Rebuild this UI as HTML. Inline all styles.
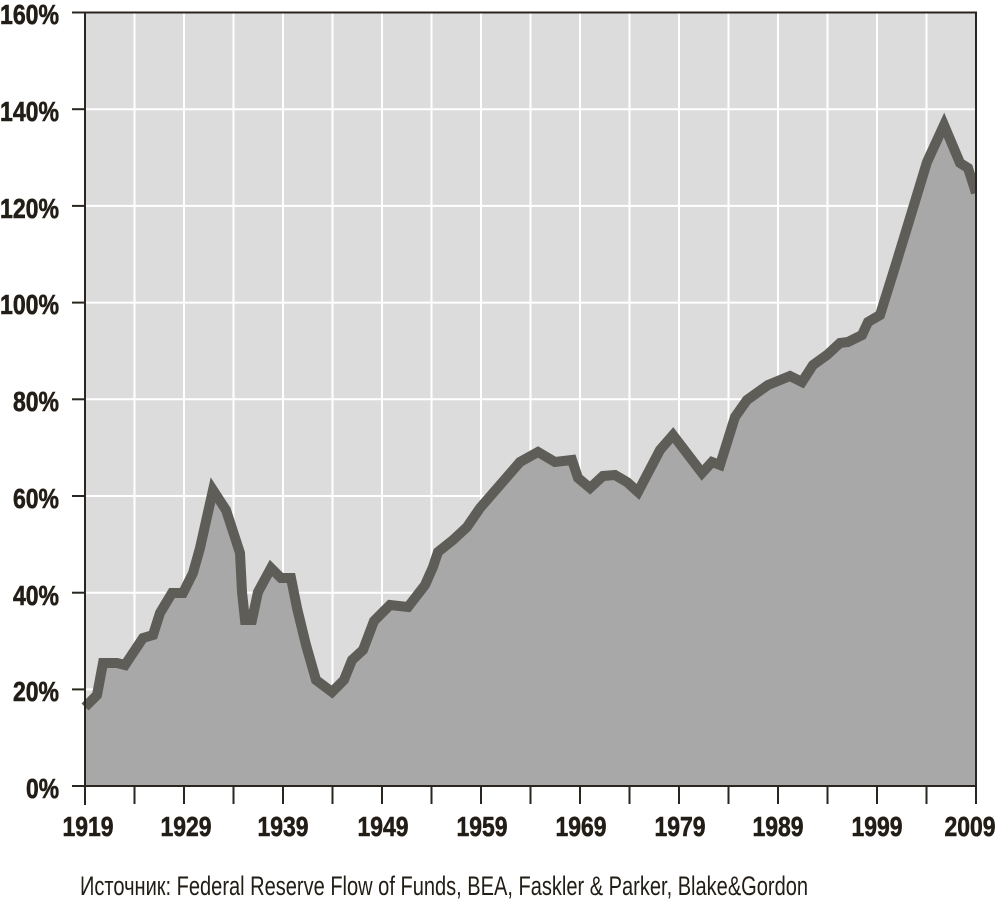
<!DOCTYPE html>
<html><head><meta charset="utf-8"><style>
body{margin:0;background:#fff;}
svg text{font-family:"Liberation Sans",sans-serif;}
</style></head><body>
<svg width="1000" height="908" xmlns="http://www.w3.org/2000/svg">
<rect x="85" y="12.5" width="891" height="774" fill="#dcdcdc"/>
<g stroke="#fff" stroke-width="2">
<line x1="134.5" y1="12" x2="134.5" y2="786"/><line x1="184" y1="12" x2="184" y2="786"/><line x1="233.5" y1="12" x2="233.5" y2="786"/><line x1="283" y1="12" x2="283" y2="786"/><line x1="332.5" y1="12" x2="332.5" y2="786"/><line x1="382" y1="12" x2="382" y2="786"/><line x1="431.5" y1="12" x2="431.5" y2="786"/><line x1="481" y1="12" x2="481" y2="786"/><line x1="530.5" y1="12" x2="530.5" y2="786"/><line x1="580" y1="12" x2="580" y2="786"/><line x1="629.5" y1="12" x2="629.5" y2="786"/><line x1="679" y1="12" x2="679" y2="786"/><line x1="728.5" y1="12" x2="728.5" y2="786"/><line x1="778" y1="12" x2="778" y2="786"/><line x1="827.5" y1="12" x2="827.5" y2="786"/><line x1="877" y1="12" x2="877" y2="786"/><line x1="926.5" y1="12" x2="926.5" y2="786"/>
<line x1="85" y1="109.2" x2="976" y2="109.2"/><line x1="85" y1="205.9" x2="976" y2="205.9"/><line x1="85" y1="302.6" x2="976" y2="302.6"/><line x1="85" y1="399.3" x2="976" y2="399.3"/><line x1="85" y1="496" x2="976" y2="496"/><line x1="85" y1="592.7" x2="976" y2="592.7"/><line x1="85" y1="689.4" x2="976" y2="689.4"/>
</g>
<polygon fill="#a8a8a8" points="85,786 85,707 97,695 103,663 117,663 125,665 133,653 143,638 153,635 160,613 172,593 183,593 193,573 200,548 213,490 226,510 240,553 242,592 245,620 252,620 258,592 271,568 281,578 291,578 297,608 306,645 316,680 332,692 344,680 352,660 363,650 374,621 390,605 408,607 425,585 433,567 438,552 453,540 467,527 480,508 500,485 520,462 538,452 555,462 572,460 578,478 590,488 603,476 615,475 627,482 638,492 660,450 673,435 702,473 712,462 720,465 735,417 747,400 768,385 790,376 802,382 813,365 827,355 840,343 848,342 862,335 868,322 880,315 895,267 910,218 927,162 944,125 960,163 968,168 976,193 976,786"/>
<polyline fill="none" stroke="#5e5d58" stroke-width="10" stroke-linejoin="miter" stroke-miterlimit="3" points="85,707 97,695 103,663 117,663 125,665 133,653 143,638 153,635 160,613 172,593 183,593 193,573 200,548 213,490 226,510 240,553 242,592 245,620 252,620 258,592 271,568 281,578 291,578 297,608 306,645 316,680 332,692 344,680 352,660 363,650 374,621 390,605 408,607 425,585 433,567 438,552 453,540 467,527 480,508 500,485 520,462 538,452 555,462 572,460 578,478 590,488 603,476 615,475 627,482 638,492 660,450 673,435 702,473 712,462 720,465 735,417 747,400 768,385 790,376 802,382 813,365 827,355 840,343 848,342 862,335 868,322 880,315 895,267 910,218 927,162 944,125 960,163 968,168 976,193"/>
<rect x="977" y="150" width="10" height="60" fill="#fff"/>
<g stroke="#2a251e" stroke-width="2" fill="none">
<polyline points="72,12.5 976,12.5 976,786"/>
<line x1="85" y1="12" x2="85" y2="805"/>
<line x1="72" y1="786" x2="976" y2="786"/>
<line x1="72" y1="109.2" x2="85" y2="109.2"/><line x1="72" y1="205.9" x2="85" y2="205.9"/><line x1="72" y1="302.6" x2="85" y2="302.6"/><line x1="72" y1="399.3" x2="85" y2="399.3"/><line x1="72" y1="496" x2="85" y2="496"/><line x1="72" y1="592.7" x2="85" y2="592.7"/><line x1="72" y1="689.4" x2="85" y2="689.4"/>
<line x1="134.5" y1="786" x2="134.5" y2="804"/><line x1="184" y1="786" x2="184" y2="804"/><line x1="233.5" y1="786" x2="233.5" y2="804"/><line x1="283" y1="786" x2="283" y2="804"/><line x1="332.5" y1="786" x2="332.5" y2="804"/><line x1="382" y1="786" x2="382" y2="804"/><line x1="431.5" y1="786" x2="431.5" y2="804"/><line x1="481" y1="786" x2="481" y2="804"/><line x1="530.5" y1="786" x2="530.5" y2="804"/><line x1="580" y1="786" x2="580" y2="804"/><line x1="629.5" y1="786" x2="629.5" y2="804"/><line x1="679" y1="786" x2="679" y2="804"/><line x1="728.5" y1="786" x2="728.5" y2="804"/><line x1="778" y1="786" x2="778" y2="804"/><line x1="827.5" y1="786" x2="827.5" y2="804"/><line x1="877" y1="786" x2="877" y2="804"/><line x1="926.5" y1="786" x2="926.5" y2="804"/><line x1="976" y1="786" x2="976" y2="804"/>
</g>
<g font-size="28" font-weight="bold" fill="#221d16" text-anchor="end" stroke="#221d16" stroke-width="0.6">
<text x="59" y="24" textLength="59" lengthAdjust="spacingAndGlyphs">160%</text>
<text x="59" y="121" textLength="59" lengthAdjust="spacingAndGlyphs">140%</text>
<text x="59" y="218" textLength="59" lengthAdjust="spacingAndGlyphs">120%</text>
<text x="59" y="314" textLength="59" lengthAdjust="spacingAndGlyphs">100%</text>
<text x="59" y="411" textLength="46" lengthAdjust="spacingAndGlyphs">80%</text>
<text x="59" y="508" textLength="46" lengthAdjust="spacingAndGlyphs">60%</text>
<text x="59" y="605" textLength="46" lengthAdjust="spacingAndGlyphs">40%</text>
<text x="59" y="701" textLength="46" lengthAdjust="spacingAndGlyphs">20%</text>
<text x="59" y="798" textLength="33" lengthAdjust="spacingAndGlyphs">0%</text>
</g>
<g font-size="28" font-weight="bold" fill="#221d16" text-anchor="middle" stroke="#221d16" stroke-width="0.6">
<text x="88" y="836" textLength="51" lengthAdjust="spacingAndGlyphs">1919</text>
<text x="186" y="836" textLength="51" lengthAdjust="spacingAndGlyphs">1929</text>
<text x="283" y="836" textLength="51" lengthAdjust="spacingAndGlyphs">1939</text>
<text x="383" y="836" textLength="51" lengthAdjust="spacingAndGlyphs">1949</text>
<text x="482" y="836" textLength="51" lengthAdjust="spacingAndGlyphs">1959</text>
<text x="581" y="836" textLength="51" lengthAdjust="spacingAndGlyphs">1969</text>
<text x="680" y="836" textLength="51" lengthAdjust="spacingAndGlyphs">1979</text>
<text x="778" y="836" textLength="51" lengthAdjust="spacingAndGlyphs">1989</text>
<text x="877" y="836" textLength="51" lengthAdjust="spacingAndGlyphs">1999</text>
<text x="970" y="836" textLength="51" lengthAdjust="spacingAndGlyphs">2009</text>
</g>
<text x="80" y="895" font-size="27" fill="#221d16" textLength="728" lengthAdjust="spacingAndGlyphs">Источник: Federal Reserve Flow of Funds, BEA, Faskler &amp; Parker, Blake&amp;Gordon</text>
</svg>
</body></html>
